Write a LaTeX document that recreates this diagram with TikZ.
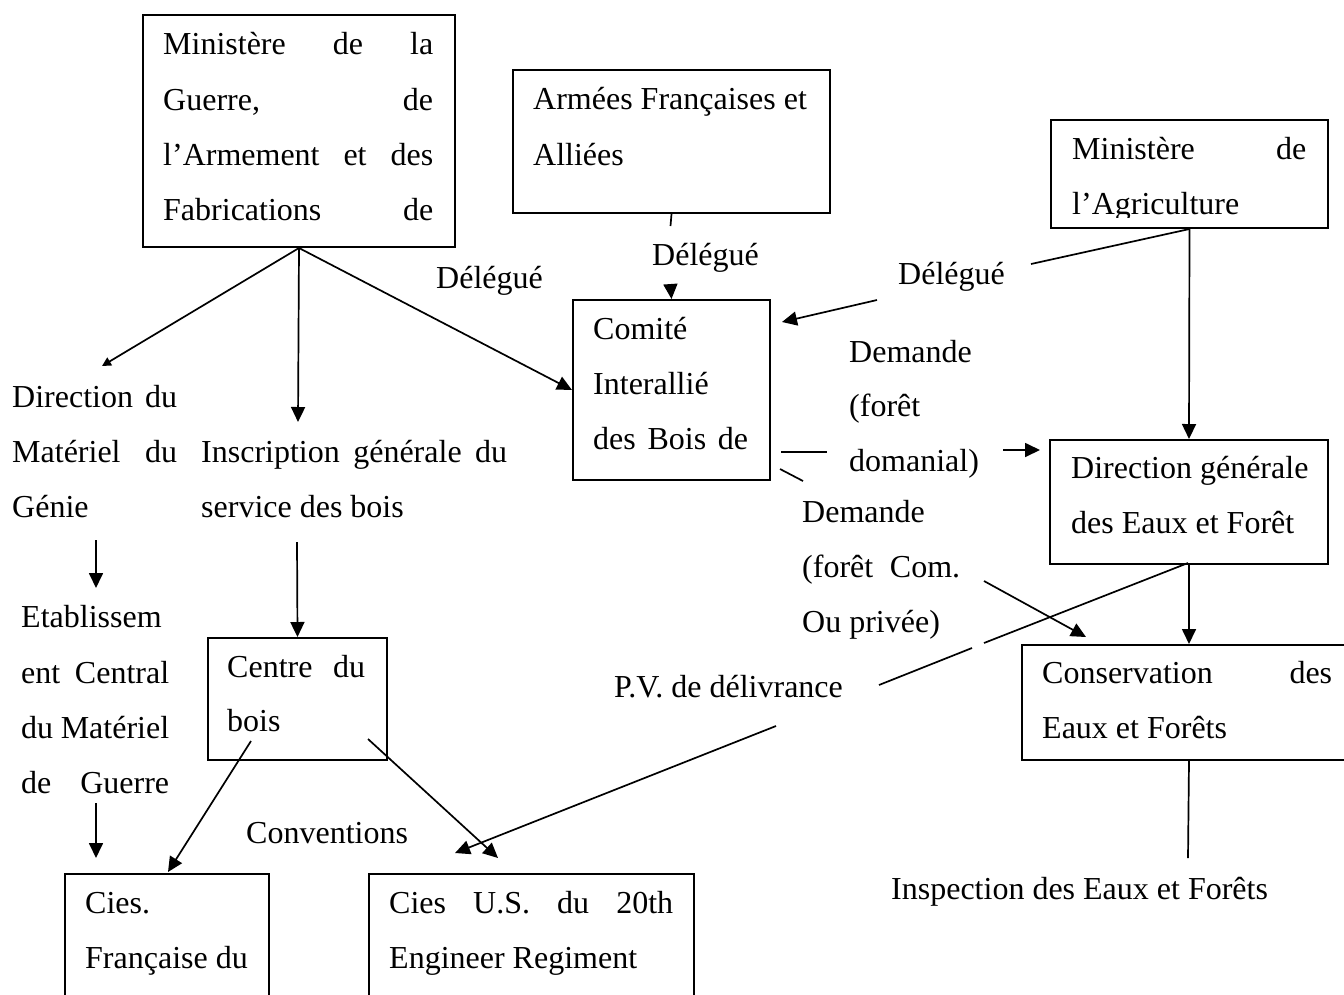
\documentclass[tikz,border=0pt]{standalone}
\usepackage{fontspec}
\setmainfont{Liberation Serif}
\usetikzlibrary{arrows.meta,calc}
\tikzset{
  box/.style={draw, line width=2pt, inner sep=0pt, anchor=north west},
  txt/.style={anchor=base west, inner sep=0pt, font=\fontsize{32}{55}\selectfont},
  ln/.style={line width=1.7pt},
  arr/.style={line width=1.7pt, -{Triangle[length=15pt,width=14pt]}},
  sarr/.style={line width=1.7pt, -{Triangle[length=9pt,width=9pt]}}
}
\newcommand{\js}[2]{\makebox[#1pt][s]{#2}}
\begin{document}
\begin{tikzpicture}[x=1pt,y=-1pt]
\useasboundingbox (0,0) rectangle (1344,994);
\clip (0,0) rectangle (1344,994);
% boxes
\node[box, minimum width=312pt, minimum height=232pt] (mg) at (142,14) {};
\node[box, minimum width=317pt, minimum height=143pt] (arm) at (512,69) {};
\node[box, minimum width=277pt, minimum height=108pt] (agri) at (1050,119) {};
\node[box, minimum width=197pt, minimum height=180pt] (com) at (572,299) {};
\node[box, minimum width=278pt, minimum height=124pt] (dg) at (1049,439) {};
\node[box, minimum width=339pt, minimum height=115pt] (cons) at (1021,644) {};
\node[box, minimum width=179pt, minimum height=122pt] (cb) at (207,637) {};
\node[box, minimum width=204pt, minimum height=137pt] (cf) at (64,873) {};
\node[box, minimum width=325pt, minimum height=137pt] (cus) at (368,873) {};
% texts
\node[txt] (mg1) at (163,54) {\js{270}{Ministère de la}};
\node[txt] (mg2) at (163,110) {\js{270}{Guerre, de}};
\node[txt] (mg3) at (163,165) {\js{270}{l’Armement et des}};
\node[txt] (mg4) at (163,220) {\js{270}{Fabrications de}};
\node[txt] (arm1) at (533,109) {Armées Françaises et};
\node[txt] (arm2) at (533,165) {Alliées};
\node[txt] (agri1) at (1072,159) {\js{234}{Ministère de}};
\begin{scope}
\clip (1050,119) rectangle (1327,217);
\node[txt] (agri2) at (1072,214) {l’Agriculture};
\end{scope}
\node[txt] (com1) at (593,339) {Comité};
\node[txt] (com2) at (593,394) {Interallié};
\node[txt] (com3) at (593,449) {\js{155}{des Bois de}};
\node[txt] (del1) at (436,288) {Délégué};
\node[txt] (del2) at (652,265) {Délégué};
\node[txt] (del3) at (898,284) {Délégué};
\node[txt] (dem1) at (849,362) {Demande};
\node[txt] (dem2) at (849,416) {(forêt};
\node[txt] (dem3) at (849,471) {domanial)};
\node[txt] (dem4) at (802,522) {Demande};
\node[txt] (dem5) at (802,577) {\js{158}{(forêt Com.}};
\node[txt] (dem6) at (802,632) {Ou privée)};
\node[txt] (dg1) at (1071,478) {Direction générale};
\node[txt] (dg2) at (1071,533) {des Eaux et Forêt};
\node[txt] (dm1) at (12,407) {\js{165}{Direction du}};
\node[txt] (dm2) at (12,462) {\js{165}{Matériel du}};
\node[txt] (dm3) at (12,517) {Génie};
\node[txt] (ins1) at (201,462) {\js{306}{Inscription générale du}};
\node[txt] (ins2) at (201,517) {service des bois};
\node[txt] (et1) at (21,627) {Etablissem};
\node[txt] (et2) at (21,683) {\js{148}{ent Central}};
\node[txt] (et3) at (21,738) {\js{148}{du Matériel}};
\node[txt] (et4) at (21,793) {\js{148}{de Guerre}};
\node[txt] (cb1) at (227,677) {\js{138}{Centre du}};
\node[txt] (cb2) at (227,731) {bois};
\node[txt] (pv) at (614,697) {P.V. de délivrance};
\node[txt] (cons1) at (1042,683) {\js{290}{Conservation des}};
\node[txt] (cons2) at (1042,738) {Eaux et Forêts};
\node[txt] (conv) at (246,843) {Conventions};
\node[txt] (insp) at (891,899) {Inspection des Eaux et Forêts};
\node[txt] (cf1) at (85,913) {Cies.};
\node[txt] (cf2) at (85,968) {Française du};
\node[txt] (cus1) at (389,913) {\js{284}{Cies U.S. du 20th}};
\node[txt] (cus2) at (389,968) {Engineer Regiment};
% free ends
\coordinate (a1) at (102,366);
\coordinate (b1) at (298,422);
\coordinate (d1) at (670.5,226);
\coordinate (d2) at (670.5,285);
\coordinate (e1) at (1031,264);
\coordinate (e2) at (877,300);
\coordinate (e3) at (782,322);
\coordinate (g1) at (781,452);
\coordinate (g2) at (827,452);
\coordinate (g3) at (1003,450);
\coordinate (g4) at (1040,450);
\coordinate (h1) at (780,469);
\coordinate (h2) at (803,481);
\coordinate (h3) at (984,581);
\coordinate (h4) at (1086,637);
\coordinate (j0) at (1188,563);
\coordinate (j1) at (984,643);
\coordinate (j2) at (972,648);
\coordinate (j3) at (879,685);
\coordinate (j4) at (776,726);
\coordinate (j5) at (455,853);
\coordinate (k1) at (251,741);
\coordinate (k2) at (168,872);
\coordinate (l1) at (368,739);
\coordinate (l2) at (498,858);
\coordinate (m1) at (96,540);
\coordinate (m2) at (96,588);
\coordinate (n1) at (96,803);
\coordinate (n2) at (96,858);
\coordinate (c1) at (297,542);
\coordinate (o1) at (1188,858);
% connectors
\draw[sarr] (mg.south) -- (a1);
\draw[arr] (mg.south) -- (b1);
\draw[arr] (mg.south) -- (com.west);
\draw[ln] (arm.south) -- (d1);
\draw[arr] (d2) -- (com.north);
\draw[ln] (agri.south) -- (e1);
\draw[arr] (e2) -- (e3);
\draw[arr] (agri.south) -- (dg.north);
\draw[ln] (g1) -- (g2);
\draw[arr] (g3) -- (g4);
\draw[ln] (h1) -- (h2);
\draw[arr] (h3) -- (h4);
\draw[arr] (dg.south) -- (dg.south |- cons.north);
\draw[ln] (j0) -- (j1);
\draw[ln] (j2) -- (j3);
\draw[arr] (j4) -- (j5);
\draw[arr] (c1) -- (cb.north);
\draw[arr] (k1) -- (k2);
\draw[arr] (l1) -- (l2);
\draw[arr] (m1) -- (m2);
\draw[arr] (n1) -- (n2);
\draw[ln] (dg.south |- cons.south) -- (o1);
\end{tikzpicture}
\end{document}
